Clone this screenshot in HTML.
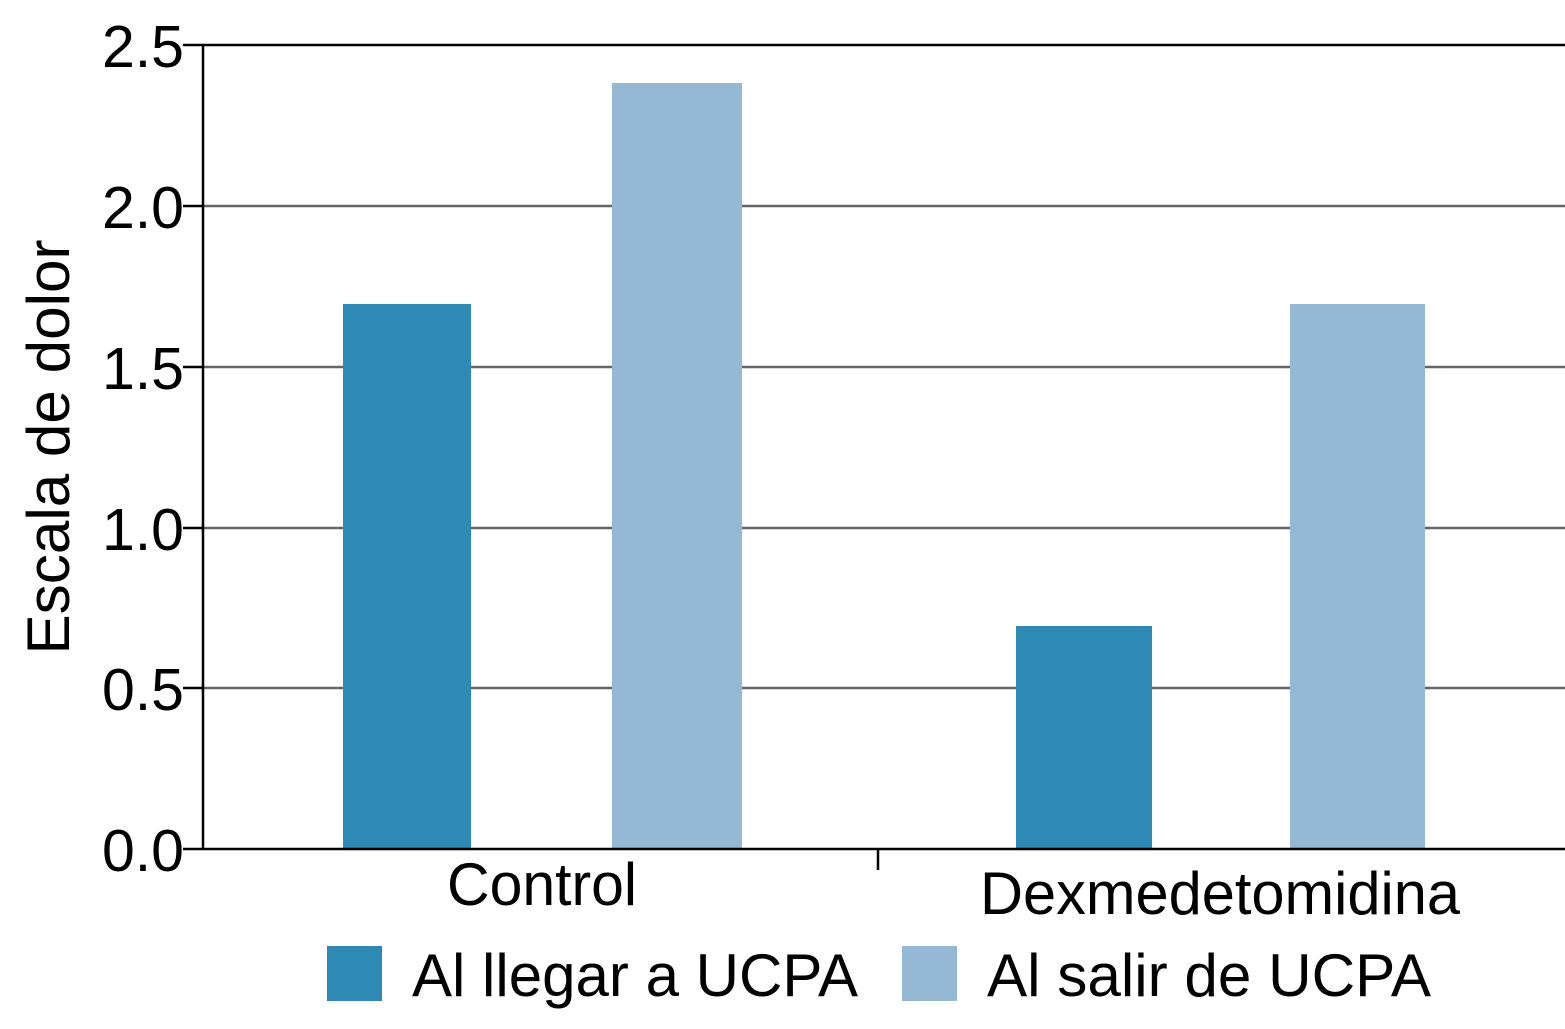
<!DOCTYPE html>
<html><head><style>body{margin:0;background:#fff}</style></head><body>
<svg width="1565" height="1024" xmlns="http://www.w3.org/2000/svg" font-family="Liberation Sans, sans-serif">
<rect width="1565" height="1024" fill="#fff"/>
<g stroke="#666" stroke-width="2.5">
<line x1="203" y1="206" x2="1565" y2="206"/>
<line x1="203" y1="367" x2="1565" y2="367"/>
<line x1="203" y1="528" x2="1565" y2="528"/>
<line x1="203" y1="688" x2="1565" y2="688"/>
</g>
<line x1="203" y1="45" x2="1565" y2="45" stroke="#000" stroke-width="2.5"/>
<rect x="343" y="304" width="128" height="545" fill="#2e89b5"/>
<rect x="612" y="83" width="130" height="766" fill="#95b8d5"/>
<rect x="1016" y="626" width="136" height="223" fill="#2e89b5"/>
<rect x="1290" y="304" width="135" height="545" fill="#95b8d5"/>
<g stroke="#000" stroke-width="2.5">
<line x1="203" y1="44" x2="203" y2="850"/>
<line x1="183" y1="849" x2="1565" y2="849"/>
<line x1="183" y1="45" x2="203" y2="45"/>
<line x1="183" y1="206" x2="203" y2="206"/>
<line x1="183" y1="367" x2="203" y2="367"/>
<line x1="183" y1="528" x2="203" y2="528"/>
<line x1="183" y1="688" x2="203" y2="688"/>
<line x1="878" y1="849" x2="878" y2="870"/>
</g>
<g font-size="59" text-anchor="end" fill="#000">
<text x="184" y="67">2.5</text>
<text x="184" y="228">2.0</text>
<text x="184" y="389">1.5</text>
<text x="184" y="550">1.0</text>
<text x="184" y="710">0.5</text>
<text x="184" y="871">0.0</text>
</g>
<text transform="translate(69,447) rotate(-90)" font-size="60" text-anchor="middle" textLength="415" lengthAdjust="spacingAndGlyphs">Escala de dolor</text>
<text x="542" y="905" font-size="60" text-anchor="middle" textLength="190" lengthAdjust="spacingAndGlyphs">Control</text>
<text x="1220" y="914" font-size="60" text-anchor="middle" textLength="480" lengthAdjust="spacingAndGlyphs">Dexmedetomidina</text>
<rect x="327" y="946" width="55" height="55" fill="#2e89b5"/>
<text x="412" y="996" font-size="60" textLength="446" lengthAdjust="spacingAndGlyphs">Al llegar a UCPA</text>
<rect x="902" y="946" width="55" height="55" fill="#95b8d5"/>
<text x="987" y="996" font-size="60" textLength="444" lengthAdjust="spacingAndGlyphs">Al salir de UCPA</text>
</svg>
</body></html>
